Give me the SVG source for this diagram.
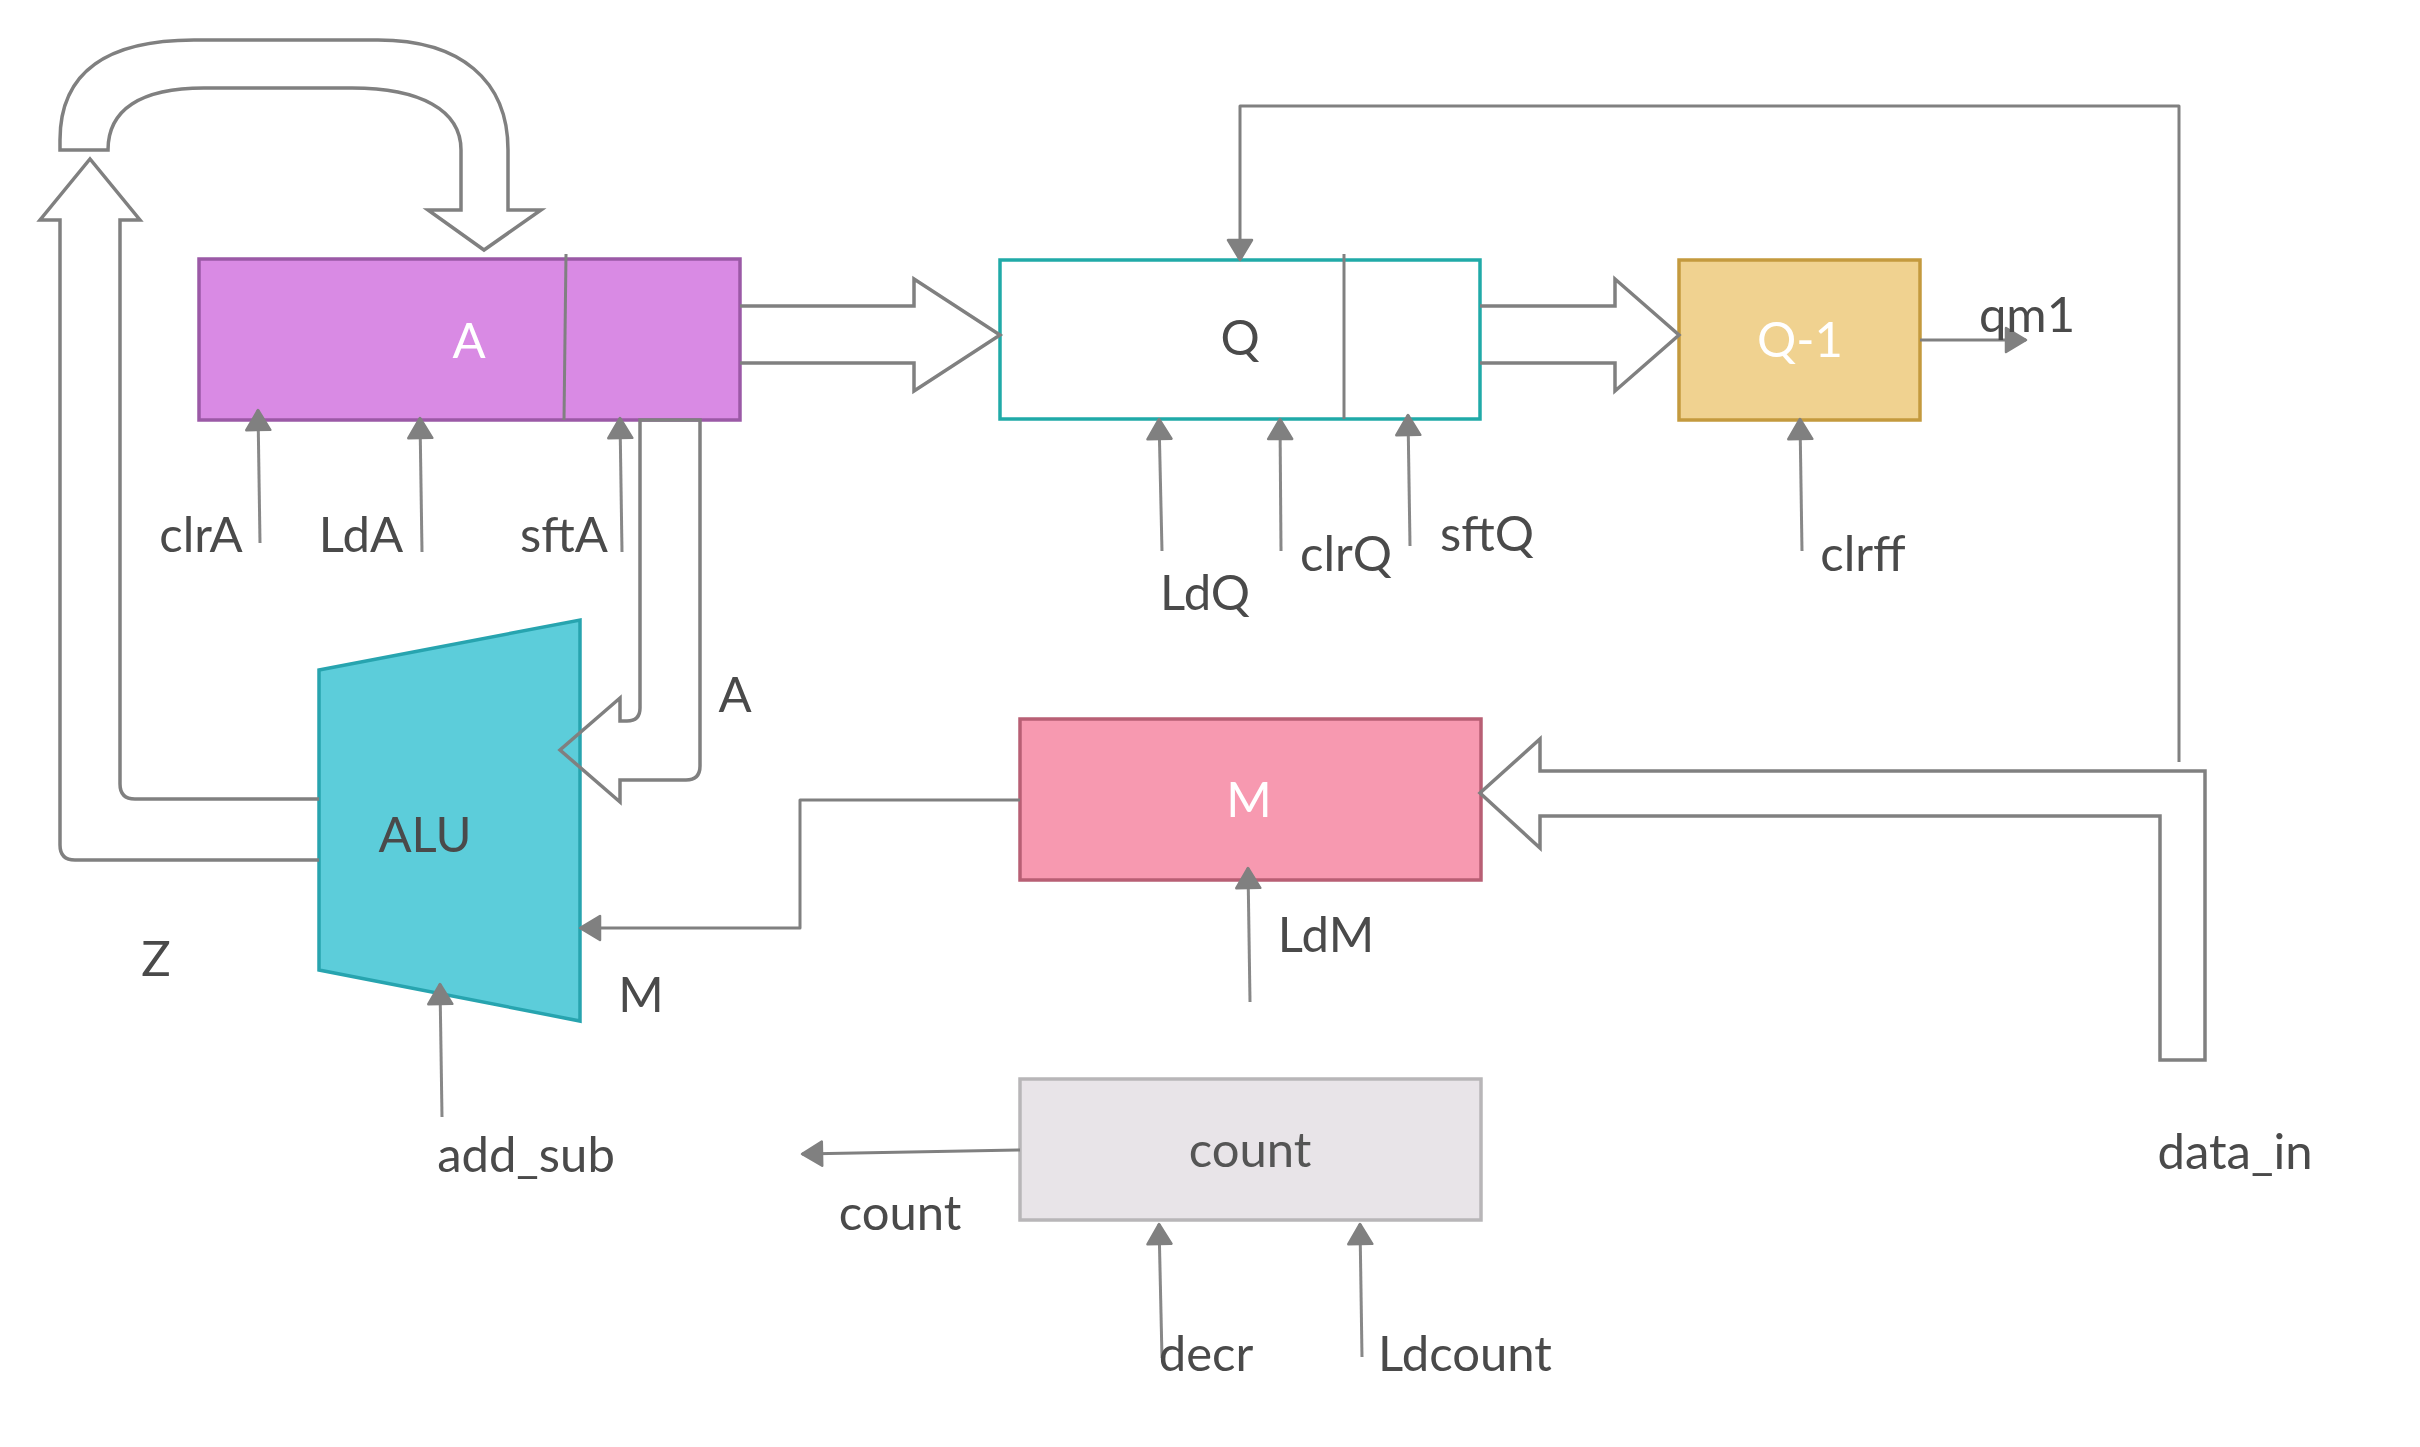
<svg xmlns="http://www.w3.org/2000/svg" width="2420" height="1447" viewBox="0 0 2420 1447">
<style>
text{font-family:Lato,"Open Sans","Liberation Sans",sans-serif;font-size:49px;fill:#4a4a4a;text-anchor:middle}
.w{fill:#ffffff}
.ln{fill:none;stroke:#808080;stroke-width:3;stroke-linejoin:round}
.sig{fill:none;stroke:#888888;stroke-width:3;marker-end:url(#ah)}
.hol{fill:none;stroke:#808080;stroke-width:3.5;stroke-linejoin:miter}
.div{stroke:#808080;stroke-width:3}
</style>
<defs>
<marker id="ah" viewBox="0 0 24 28" refX="22" refY="14" markerWidth="24" markerHeight="28" orient="auto" markerUnits="userSpaceOnUse">
<path d="M2,2 L22,14 L2,26 Z" fill="#808080" stroke="#808080" stroke-width="2.5" stroke-linejoin="round"/>
</marker>
</defs>
<rect width="2420" height="1447" fill="#ffffff"/>

<g id="node-A">
<rect x="199" y="259" width="541" height="161" fill="#d98ae4" stroke="#9b59a6" stroke-width="3.5"/>
<line class="div" x1="566" y1="254" x2="564" y2="420"/>
<text class="w" x="469" y="358">A</text>
</g>
<g id="node-Q">
<rect x="1000" y="260" width="480" height="159" fill="#ffffff" stroke="#20aaa8" stroke-width="3.5"/>
<line class="div" x1="1344" y1="254" x2="1344" y2="419"/>
<text x="1240" y="355">Q</text>
</g>
<g id="node-Q-1">
<rect x="1679" y="260" width="241" height="160" fill="#f0d290" stroke="#c49a3e" stroke-width="3.5"/>
<text class="w" x="1800" y="357">Q-1</text>
</g>
<g id="node-M">
<rect x="1020" y="719" width="461" height="161" fill="#f799b0" stroke="#b85f74" stroke-width="3.5"/>
<text class="w" x="1249" y="817">M</text>
</g>
<g id="node-count">
<rect x="1020" y="1079" width="461" height="141" fill="#e8e4e8" stroke="#b8b6b8" stroke-width="3.5"/>
<text x="1250" y="1167" style="fill:#555555">count</text>
</g>
<g id="node-ALU">
<polygon points="319,670 580,620 580,1021 319,970" fill="#5ccdda" stroke="#27a4af" stroke-width="3.5"/>
<text x="425" y="852">ALU</text>
</g>

<g id="connectors">
<path class="hol" d="M60,150 L60,140 C60,70 110,40 194,40 L378,40 C460,40 508,80 508,150 L508,210 L541,210 L484,250 L428,210 L461,210 L461,150 C461,110 420,88 352,88 L204,88 C140,88 108,110 108,150 Z"/>
<path class="hol" d="M319,860 L75,860 Q60,860 60,845 L60,220 L40,220 L90,159 L140,220 L120,220 L120,784 Q120,799 135,799 L319,799"/>
<path class="hol" d="M640,420 L640,708 Q640,721 627,721 L620,721 L620,698 L560,750 L620,802 L620,780 L686,780 Q700,780 700,766 L700,420 Z"/>
<path class="hol" d="M740,306 L914,306 L914,279 L1000,335 L914,391 L914,363 L740,363"/>
<path class="hol" d="M1480,306 L1615,306 L1615,279 L1679,335 L1615,391 L1615,363 L1480,363"/>
<path class="hol" d="M2160,1060 L2205,1060 L2205,771 L1540,771 L1540,739 L1480,793 L1540,848 L1540,816 L2160,816 Z"/>
<path class="ln" d="M2179,762 L2179,106 L1240,106 L1240,260" marker-end="url(#ah)"/>
<path class="ln" d="M1020,800 L800,800 L800,928 L580,928" marker-end="url(#ah)"/>
<path class="ln" d="M1020,1150 L802,1154" marker-end="url(#ah)"/>
<path class="ln" d="M1920,340 L2026,340" marker-end="url(#ah)"/>
<path class="sig" d="M260,543 L258,410"/>
<path class="sig" d="M422,552 L420,418"/>
<path class="sig" d="M622,552 L620,418"/>
<path class="sig" d="M1162,551 L1159,419"/>
<path class="sig" d="M1281,551 L1280,419"/>
<path class="sig" d="M1410,546 L1408,415"/>
<path class="sig" d="M1802,551 L1800,419"/>
<path class="sig" d="M1250,1002 L1248,868"/>
<path class="sig" d="M442,1117 L440,984"/>
<path class="sig" d="M1162,1358 L1159,1224"/>
<path class="sig" d="M1362,1357 L1360,1224"/>
</g>

<g id="labels">
<text x="201" y="552">clrA</text>
<text x="361" y="552">LdA</text>
<text x="564" y="552">sftA</text>
<text x="1205" y="610">LdQ</text>
<text x="1346" y="571">clrQ</text>
<text x="1487" y="551">sftQ</text>
<text x="1863" y="571">clrff</text>
<text x="2027" y="332">qm1</text>
<text x="735" y="712">A</text>
<text x="156" y="976">Z</text>
<text x="641" y="1012">M</text>
<text x="526" y="1172">add_sub</text>
<text x="1326" y="952">LdM</text>
<text x="900" y="1230">count</text>
<text x="1206" y="1371">decr</text>
<text x="1465" y="1371">Ldcount</text>
<text x="2235" y="1169">data_in</text>
</g>
</svg>
